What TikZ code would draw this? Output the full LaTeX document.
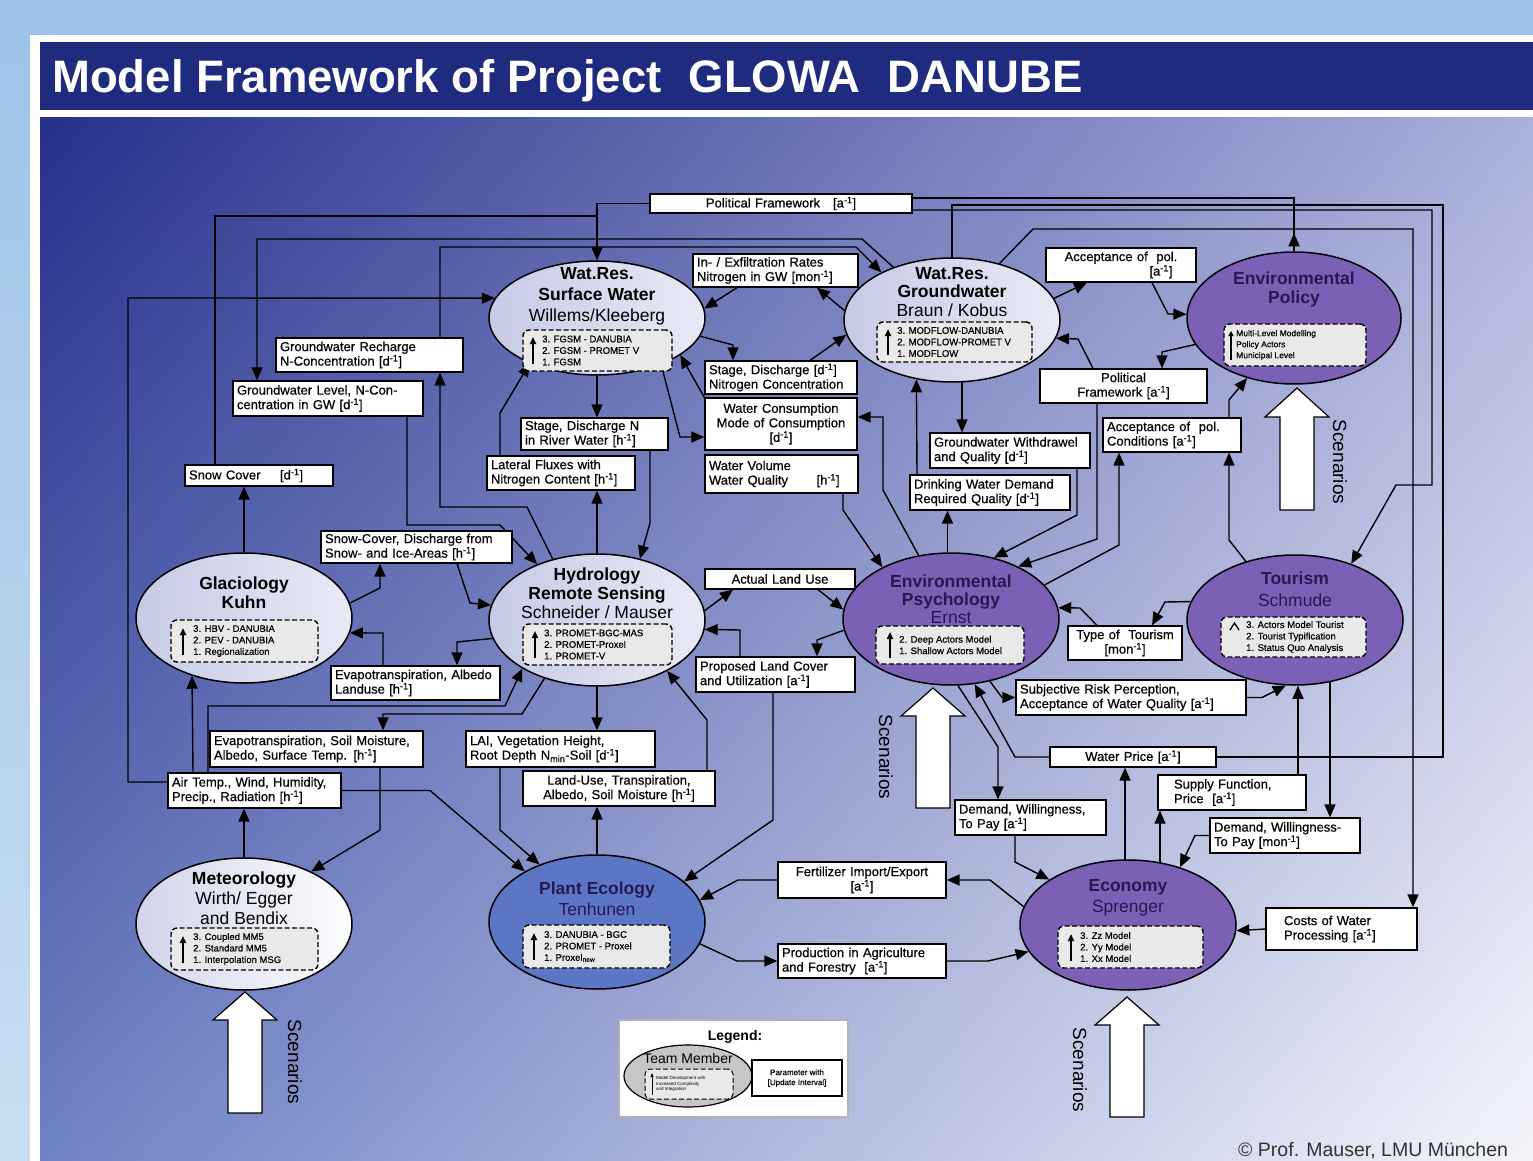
\documentclass[tikz,border=0pt]{standalone}
\usepackage{fontspec}
\setmainfont{Liberation Sans}
\newfontfamily\heavyfam{Liberation Sans}[FakeBold=0.5]
\usetikzlibrary{shapes.geometric,arrows.meta,shadings}
\pgfdeclarelayer{back}
\pgfdeclarelayer{bg}
\pgfsetlayers{back,bg,main}
\definecolor{navy}{HTML}{1F2B7E}
\definecolor{outerA}{HTML}{9CC2E8}
\definecolor{outerB}{HTML}{C9DEF2}
\definecolor{pUL}{HTML}{27308C}
\definecolor{pUR}{HTML}{A9B0DC}
\definecolor{pLL}{HTML}{6F81C5}
\definecolor{pLR}{HTML}{F4F5FA}
\definecolor{lightA}{HTML}{C6CAE5}
\definecolor{lightB}{HTML}{E8EAF5}
\definecolor{purp}{HTML}{7A61B6}
\definecolor{ptext}{HTML}{261A55}
\definecolor{peblue}{HTML}{5C76C6}
\definecolor{ingrey}{HTML}{E9E9E9}
\newcommand\myinv{\textsuperscript{-1}}
\newcommand\bxfont{\heavyfam\fontsize{13}{14.5}\selectfont}
\newcommand\infont{\heavyfam\fontsize{9.5}{11.5}\selectfont}
\newcommand\pbx[7]{\pgfmathsetmacro\mytw{#4-8}\node[pbox,minimum width=#4pt,minimum height=#5pt,text width=\mytw pt,align=#6] (#1) at (#2,#3) {#7};}
\newcommand\inb[5]{\node[inbox,minimum width=#4pt,minimum height=#5pt] (#1) at (#2,#3) {};}
\begin{document}
\begin{tikzpicture}[x=1pt,y=-1pt,
  ell/.style={ellipse,draw=black,line width=1.5pt,minimum width=216pt,inner sep=0pt},
  lell/.style={ell,left color=lightA,right color=lightB},
  pell/.style={ell,fill=purp},
  bell/.style={ell,fill=peblue},
  inbox/.style={draw=black,dashed,dash pattern=on 5pt off 2.5pt,line width=1.4pt,rounded corners=6pt,fill=ingrey,inner sep=0pt},
  pbox/.style={draw=black,fill=white,line width=1.3pt,inner sep=0pt,font=\bxfont},
  ttl/.style={align=center,font=\fontsize{17.5}{#1}\selectfont},
  ttl/.default=20,
  intext/.style={font=\infont,align=left,anchor=west,inner sep=0pt},
  inarr/.style={line width=1.8pt,-{Triangle[length=7pt,width=6pt]}},
  con/.style={draw=black,line width=1.4pt},
  arr/.style={con,-{Triangle[length=13pt,width=11pt]}},
  scen/.style={draw=black,line width=1.2pt,fill=white},
  scent/.style={font=\fontsize{19}{21}\selectfont,rotate=-90}
]
\useasboundingbox (0,0) rectangle (1533,1161);
\begin{pgfonlayer}{back}
\shade[top color=outerA,bottom color=outerB] (0,0) rectangle (1533,1161);
\fill[white] (30,35) rectangle (1533,1161);
\fill[navy] (40,42) rectangle (1533,110);
\shade[upper left=pUL,upper right=pUR,lower left=pLL,lower right=pLR] (40,118) rectangle (1533,1161);
\end{pgfonlayer}

\node[anchor=base west,text=white,font=\fontsize{45.5}{50}\selectfont\bfseries,inner sep=0pt] (title) at (52,93) {Model Framework of Project\hspace{0.6em}GLOWA\hspace{0.6em}DANUBE};

% ---------- ellipses ----------
\node[lell,minimum height=114pt] (sw) at (597,318) {};
\node[lell,minimum height=124pt] (gwm) at (952,320) {};
\node[pell,minimum width=214pt,minimum height=132pt] (ep) at (1294,318) {};
\node[lell,minimum height=130pt] (gl) at (244,618) {};
\node[lell,minimum height=132pt] (hy) at (597,620) {};
\node[pell,minimum height=132pt] (psy) at (951,619) {};
\node[pell,minimum height=130pt] (tour) at (1295,620) {};
\node[ell,minimum height=132pt,left color=lightA!80,right color=white!90!lightB] (met) at (244,924) {};
\node[bell,minimum height=134pt] (pe) at (597,922) {};
\node[pell,minimum height=130pt] (ec) at (1128,925) {};

% titles
\node[ttl=21] (swt) at (597,296) {\textbf{Wat.Res.}\\\textbf{Surface Water}\\Willems/Kleeberg};
\node[ttl=18.5] (gwmt) at (952,292) {\textbf{Wat.Res.}\\\textbf{Groundwater}\\Braun / Kobus};
\node[ttl=19,text=ptext] (ept) at (1294,289) {\textbf{Environmental}\\\textbf{Policy}};
\node[ttl=19] (glt) at (244,593) {\textbf{Glaciology}\\\textbf{Kuhn}};
\node[ttl=19] (hyt) at (597,593) {\textbf{Hydrology}\\\textbf{Remote Sensing}\\Schneider / Mauser};
\node[ttl=18,text=ptext] (psyt) at (951,599) {\textbf{Environmental}\\\textbf{Psychology}\\Ernst};
\node[ttl=22,text=ptext] (tourt) at (1295,589) {\textbf{Tourism}\\Schmude};
\node[ttl=20] (mett) at (244,898) {\textbf{Meteorology}\\Wirth/ Egger\\and Bendix};
\node[ttl=21,text=ptext] (pet) at (597,898.5) {\textbf{Plant Ecology}\\Tenhunen};
\node[ttl=21,text=ptext] (ect) at (1128,897.5) {\textbf{Economy}\\Sprenger};

% inner dashed boxes
\inb{swi}{597.5}{350.5}{149}{41}
\draw[inarr] (533,364) -- (533,337);
\node[intext] (swit) at (542,350.5) {3. FGSM - DANUBIA\\2. FGSM - PROMET V\\1. FGSM};
\inb{gwmi}{954.5}{342}{155}{40}
\draw[inarr] (888,355) -- (888,329);
\node[intext] (gwmit) at (897,342) {3. MODFLOW-DANUBIA\\2. MODFLOW-PROMET V\\1. MODFLOW};
\inb{epi}{1295}{345}{142}{42}
\draw[line width=1.3pt,-{Triangle[length=5pt,width=5pt]}] (1231,360) -- (1231,331);
\node[intext,font=\heavyfam\fontsize{8.5}{11}\selectfont] (epit) at (1236,345) {Multi-Level Modelling\\Policy Actors\\Municipal Level};
\inb{gli}{244.5}{641}{147}{42}
\draw[inarr] (183,655) -- (183,628);
\node[intext] (glit) at (193,641) {3. HBV - DANUBIA\\2. PEV - DANUBIA\\1. Regionalization};
\inb{hyi}{597.5}{644.5}{149}{41}
\draw[inarr] (535,658) -- (535,631);
\node[intext] (hyit) at (544,644.5) {3. PROMET-BGC-MAS\\2. PROMET-Proxel\\1. PROMET-V};
\inb{psyi}{950}{645}{148}{38}
\draw[inarr] (890,658) -- (890,632);
\node[intext] (psyit) at (899,645) {2. Deep Actors Model\\1. Shallow Actors Model};
\inb{touri}{1293.5}{637}{145}{40}
\draw[line width=1.3pt] (1230,630) -- (1234.5,623) -- (1239,630);
\node[intext] (tourit) at (1246,637) {3. Actors Model Tourist\\2. Tourist Typification\\1. Status Quo Analysis};
\inb{meti}{244.5}{949}{147}{42}
\draw[inarr] (183,963) -- (183,936);
\node[intext] (metit) at (193,949) {3. Coupled MM5\\2. Standard MM5\\1. Interpolation MSG};
\inb{pei}{596.5}{946.5}{147}{43}
\draw[inarr] (534,960) -- (534,933);
\node[intext] (peit) at (544,946.5) {3. DANUBIA - BGC\\2. PROMET - Proxel\\1. Proxel\textsubscript{new}};
\inb{eci}{1130.5}{947}{145}{42}
\draw[inarr] (1071,961) -- (1071,934);
\node[intext] (ecit) at (1080,947) {3. Zz Model\\2. Yy Model\\1. Xx Model};

% ---------- parameter boxes ----------
\pbx{pfa}{781}{203.5}{262}{19}{center}{Political Framework\quad[a\myinv]}
\pbx{inex}{775.5}{270.5}{165}{33}{left}{In- / Exfiltration Rates\\Nitrogen in GW [mon\myinv]}
\pbx{gwrech}{369.5}{355}{187}{34}{left}{Groundwater Recharge\\N-Concentration [d\myinv]}
\pbx{gwlev}{328}{398.5}{190}{35}{left}{Groundwater Level, N-Con-\\centration in GW [d\myinv]}
\pbx{stgd}{781}{377.5}{152}{33}{left}{Stage, Discharge [d\myinv]\\Nitrogen Concentration}
\pbx{wcons}{781}{424}{152}{52}{center}{Water Consumption\\Mode of Consumption\\{[}d\myinv]}
\pbx{wvol}{781.5}{474}{153}{38}{left}{Water Volume\\Water Quality\hspace{2.2em}[h\myinv]}
\pbx{stgn}{594.5}{434}{147}{32}{left}{Stage, Discharge N\\in River Water [h\myinv]}
\pbx{latf}{561}{473}{148}{34}{left}{Lateral Fluxes with\\Nitrogen Content [h\myinv]}
\pbx{snow}{259}{475.5}{148}{21}{left}{Snow Cover\hspace{1.5em}[d\myinv]}
\pbx{snowdis}{416.5}{547}{191}{32}{left}{Snow-Cover, Discharge from\\Snow- and Ice-Areas [h\myinv]}
\pbx{evalb}{415.5}{683}{169}{34}{left}{Evapotranspiration, Albedo\\Landuse [h\myinv]}
\pbx{evsoil}{316.5}{749}{213}{36}{left}{Evapotranspiration, Soil Moisture,\\Albedo, Surface Temp. [h\myinv]}
\pbx{airt}{254.5}{790.5}{173}{35}{left}{Air Temp., Wind, Humidity,\\Precip., Radiation [h\myinv]}
\pbx{lai}{560.5}{749}{189}{36}{left}{LAI, Vegetation Height,\\Root Depth N\textsubscript{min}-Soil [d\myinv]}
\pbx{landuse}{619}{788.5}{192}{35}{center}{Land-Use, Transpiration,\\Albedo, Soil Moisture [h\myinv]}
\pbx{actlu}{780}{579}{150}{20}{center}{Actual Land Use}
\pbx{proplc}{775.5}{674.5}{159}{35}{left}{Proposed Land Cover\\and Utilization [a\myinv]}
\pbx{accpol}{1121}{265}{150}{34}{center}{Acceptance of\ \ pol.\\\hspace*{80pt}[a\myinv]}
\pbx{pft}{1123.5}{386}{167}{34}{center}{Political\\Framework [a\myinv]}
\pbx{acccond}{1172}{435}{138}{34}{left}{Acceptance of\ \ pol.\\Conditions [a\myinv]}
\pbx{gwwd}{1010}{450.5}{160}{35}{left}{Groundwater Withdrawel\\and Quality [d\myinv]}
\pbx{drink}{990}{492.5}{160}{35}{left}{Drinking Water Demand\\Required Quality [d\myinv]}
\pbx{ttour}{1125}{643}{114}{34}{center}{Type of\ \ Tourism\\{[}mon\myinv]}
\pbx{srisk}{1131}{697.5}{230}{35}{left}{Subjective Risk Perception,\\Acceptance of Water Quality [a\myinv]}
\pbx{wprice}{1133}{757}{166}{20}{center}{Water Price [a\myinv]}
\pbx{supply}{1232}{792.5}{148}{35}{left}{\hspace*{12pt}Supply Function,\\\hspace*{12pt}Price\ \ [a\myinv]}
\pbx{demwil}{1030.5}{817.5}{151}{35}{left}{Demand, Willingness,\\To Pay [a\myinv]}
\pbx{demwil2}{1285}{835.5}{150}{35}{left}{Demand, Willingness-\\To Pay [mon\myinv]}
\pbx{fert}{862}{880}{168}{36}{center}{Fertilizer Import/Export\\{[}a\myinv]}
\pbx{prod}{862}{961}{168}{34}{left}{Production in Agriculture\\and Forestry\ \ [a\myinv]}
\pbx{costs}{1341.5}{929}{151}{42}{left}{\hspace*{14pt}Costs of Water\\\hspace*{14pt}Processing [a\myinv]}

% ---------- scenario arrows ----------
\draw[scen] (245,992) -- (277,1020) -- (262,1020) -- (262,1113) -- (228,1113) -- (228,1020) -- (213,1020) -- cycle;
\node[scent] (scmet) at (295,1062) {Scenarios};
\draw[scen] (933,688) -- (965,716) -- (950,716) -- (950,808) -- (916,808) -- (916,716) -- (901,716) -- cycle;
\node[scent] (scpsy) at (886,757) {Scenarios};
\draw[scen] (1127,997) -- (1159,1025) -- (1144,1025) -- (1144,1117) -- (1110,1117) -- (1110,1025) -- (1095,1025) -- cycle;
\node[scent] (scec) at (1080,1070) {Scenarios};
\draw[scen] (1297,388) -- (1329,417) -- (1314,417) -- (1314,510) -- (1280,510) -- (1280,417) -- (1265,417) -- cycle;
\node[scent] (scep) at (1340,462) {Scenarios};

% ---------- legend ----------
\node[draw=gray!60,line width=2pt,fill=white,minimum width=229pt,minimum height=97pt,inner sep=0pt] (legend) at (733.5,1068.5) {};
\node[font=\fontsize{14}{16}\selectfont\bfseries] (legt) at (735,1037) {Legend:};
\node[ellipse,draw=black,line width=1.2pt,fill=gray!45,minimum width=128pt,minimum height=62pt,inner sep=0pt] (legell) at (688,1076) {};
\node[font=\fontsize{14}{16}\selectfont] (legtm) at (688,1058) {Team Member};
\node[inbox,line width=1pt,minimum width=88pt,minimum height=30pt,rounded corners=5pt] (legin) at (689,1084) {};
\draw[line width=0.8pt,-{Triangle[length=4pt,width=3pt]}] (652,1095) -- (652,1073);
\node[font=\fontsize{4.5}{5.5}\selectfont,align=left,anchor=west,inner sep=0pt] (legintx) at (656,1084) {Model Development with\\Increased Complexity\\and Integration};
\node[draw=black,line width=1.2pt,fill=white,minimum width=90pt,minimum height=36pt,inner sep=0pt,font=\heavyfam\fontsize{8}{10}\selectfont,align=center] (legbox) at (797,1078) {Parameter with\\{[}Update Interval]};

\node[anchor=base west,font=\fontsize{19.5}{22}\selectfont,text=black!80,inner sep=0pt] (copy) at (1238,1156) {\textcopyright\ Prof. Mauser, LMU München};

% ---------- connectors ----------
\begin{pgfonlayer}{bg}
% top left
\draw[arr] (pfa.west) -| (sw.north);
\draw[con] (215,0 |- snow.north) -- (215,216) -- (597,216);
\draw[arr] (gl.north) -- (gl.north |- snow.south);
\draw[arr] (gwm.center) -- (862,239) -- (257,239) -- (257,0 |- gwlev.north);
\draw[arr] (440,0 |- gwrech.north) -- (440,247) -- (856,247) -- (gwm.146);
\draw[arr] (airt.west |- 0,782) -- (128,782) -- (128,298) -- (sw.169);
% top bus
\draw[con] (ep.north) -- (1294,198) -- (pfa.east |- 0,198);
\draw[arr] (ep.north) -- ++(0,-18);
\draw[con] (wprice.east) -- (1443,0 |- wprice.east) -- (1443,205) -- (952,205) -- (gwm.center);
\draw[arr] (pfa.east |- 0,210) -- (1432,210) -- (1432,485) -- (1396,485) -- (tour.45);
\draw[arr] (gwm.50) -- (1033,229) -- (1413,229) -- (1413,0 |- costs.north);
% surface water area
\draw[arr] (sw.south) -- (sw.south |- stgn.north);
\draw[arr] (500,0 |- latf.north) -- (500,413) -- (sw.214);
\draw[arr] (hy.north) -- (hy.north |- latf.south);
\draw[arr] (650,0 |- stgn.south) -- (650,523) -- (hy.55);
\draw[arr] (sw.350) -- (733,345) -- (733,0 |- stgd.north);
\draw[arr] (737,0 |- inex.south) -- (sw.5);
\draw[arr] (gwm.175) -- (817,0 |- inex.south);
\draw[arr] (810,0 |- stgd.north) -- (gwm.188);
\draw[arr] (wcons.north west) -- (sw.336);
\draw[arr] (sw.324) -- (680,437) -- (wcons.west |- 0,437);
% groundwater / psychology
\draw[arr] (psy.117) -- (883,490) -- (883,417) -- (wcons.east |- 0,417);
\draw[arr] (843,0 |- wvol.south) -- (843,510) -- (psy.143);
\draw[arr] (psy.93) -- (psy.93 |- drink.south);
\draw[arr] (917,0 |- drink.north) -- (gwm.239);
\draw[arr] (962,0 |- gwm.center) -- (962,0 |- gwwd.north);
\draw[arr] (1077,0 |- gwwd.south) -- (1077,515) -- (psy.55);
\draw[arr] (gwm.12) -- (1087,0 |- accpol.south);
\draw[arr] (1152,0 |- accpol.south) -- (1168,314) -- (ep.178);
\draw[arr] (1093,0 |- pft.north) -- (1078,339) -- (gwm.350);
\draw[arr] (ep.195) -- (1162,352) -- (1162,0 |- pft.north);
\draw[arr] (1097,0 |- pft.south) -- (1097,539) -- (psy.38);
\draw[arr] (psy.20) -- (1119,545) -- (1119,0 |- acccond.south);
\draw[arr] (1229,0 |- acccond.north) -- (1229,400) -- (ep.232);
\draw[arr] (tour.130) -- (1229,540) -- (1229,0 |- acccond.south);
\draw[arr] (tour.170) -- (1165,602) -- (1152,0 |- ttour.north);
\draw[arr] (1097,0 |- ttour.north) -- (1080,608) -- (psy.6);
\draw[arr] (psy.302) -- (1002,0 |- srisk.west) -- (srisk.west);
\draw[arr] (srisk.east) -- (1262,0 |- srisk.east) -- (tour.262);
\draw[arr] (wprice.west) -- (1015,0 |- wprice.west) -- (psy.290);
\draw[arr] (psy.276) -- (998,747) -- (998,0 |- demwil.north);
\draw[arr] (1298,0 |- supply.north) -- (1298,0 |- tour.south);
\draw[arr] (1330,0 |- tour.center) -- (1330,0 |- demwil2.north);
% economy
\draw[arr] (1125,0 |- ec.center) -- (1125,0 |- wprice.south);
\draw[arr] (1160,0 |- ec.center) -- (1160,0 |- supply.south);
\draw[arr] (demwil2.west) -- (1195,0 |- demwil2.west) -- (ec.48);
\draw[arr] (1015,0 |- demwil.south) -- (1015,862) -- (ec.150);
\draw[arr] (ec.170) -- (990,880) -- (fert.east);
\draw[arr] (fert.west) -- (738,880) -- (pe.12);
\draw[arr] (pe.348) -- (737,961) -- (prod.west);
\draw[arr] (prod.east) -- (988,961) -- (ec.195);
\draw[arr] (costs.west) -- (ec.357);
% lower centre
\draw[arr] (773,0 |- proplc.south) -- (773,820) -- (pe.25);
\draw[arr] (psy.186) -- (817,640) -- (817,0 |- proplc.north);
\draw[arr] (740,0 |- proplc.north) -- (740,630) -- (hy.355);
\draw[arr] (hy.5) -- (733,0 |- actlu.south);
\draw[arr] (818,0 |- actlu.south) -- (psy.175);
\draw[arr] (707,0 |- landuse.north) -- (707,720) -- (hy.324);
\draw[arr] (hy.south) -- (hy.south |- lai.north);
\draw[arr] (pe.north) -- (pe.north |- landuse.south);
\draw[arr] (500,0 |- lai.south) -- (500,830) -- (pe.135);
\draw[arr] (airt.east) -- (430,0 |- airt.east) -- (pe.145);
% left
\draw[arr] (met.north) -- (met.north |- airt.south);
\draw[arr] (193,0 |- airt.north) -- (gl.228);
\draw[arr] (208,0 |- airt.north) -- (208,706) -- (505,706) -- (hy.213);
\draw[arr] (hy.228) -- (522,714) -- (383,714) -- (383,0 |- evsoil.north);
\draw[arr] (380,0 |- evsoil.south) -- (380,830) -- (met.38);
\draw[arr] (gl.8) -- (380,588) -- (380,0 |- snowdis.south);
\draw[arr] (457,0 |- snowdis.south) -- (470,603) -- (hy.172);
\draw[arr] (383,0 |- evalb.north) -- (383,633) -- (gl.352);
\draw[arr] (hy.190) -- (457,642) -- (457,0 |- evalb.north);
\draw[arr] (407,0 |- gwlev.south) -- (407,525) -- (500,525) -- (hy.137);
\draw[arr] (hy.126) -- (527,507) -- (440,507) -- (440,0 |- gwrech.south);
\end{pgfonlayer}
\end{tikzpicture}
\end{document}
